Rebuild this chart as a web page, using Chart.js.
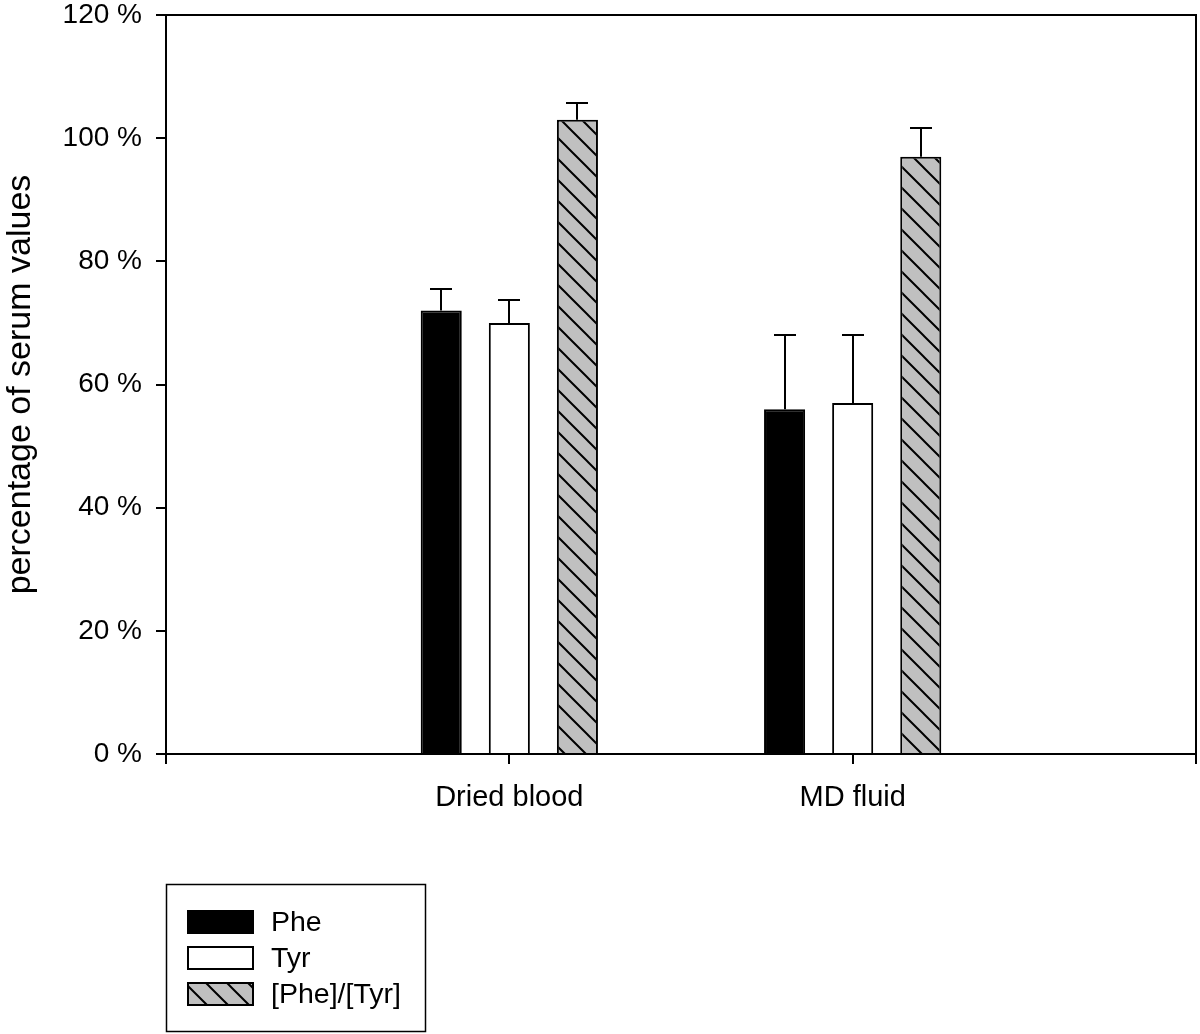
<!DOCTYPE html>
<html>
<head>
<meta charset="utf-8">
<script src="https://cdn.jsdelivr.net/npm/chart.js@4.4.0/dist/chart.umd.min.js"></script>
<style>
  html, body { margin: 0; padding: 0; background: #fff; }
  #wrap { width: 1200px; height: 1034px; position: relative; }
</style>
</head>
<body>
<div id="wrap"><canvas id="chart" width="1200" height="1034"></canvas></div>
<script>
// Data (empty outer slots leave the space on either side of the groups)
const categories = ['', 'Dried blood', 'MD fluid', ''];
const pheValues = [null, 72, 56, null];
const pheErrors = [null, 3.5, 12, null];
const tyrValues = [null, 70, 57, null];
const tyrErrors = [null, 3.7, 11, null];
const ratioValues = [null, 103, 97, null];
const ratioErrors = [null, 2.7, 4.7, null];
const yTicks = [0, 20, 40, 60, 80, 100, 120];
const seriesNames = ['Phe', 'Tyr', '[Phe]/[Tyr]'];

const FONT = "'Liberation Sans', Arial, sans-serif";

// Diagonal hatch pattern for the ratio bars
function makeHatch() {
    const size = 21;
    const c = document.createElement('canvas');
    c.width = size;
    c.height = size;
    const g = c.getContext('2d');
    g.fillStyle = '#c0c0c0';
    g.fillRect(0, 0, size, size);
    g.strokeStyle = '#000';
    g.lineWidth = 2;
    g.beginPath();
    g.moveTo(-2, -2); g.lineTo(size + 2, size + 2);
    g.moveTo(-2, size - 2); g.lineTo(2, size + 2);
    g.moveTo(size - 2, -2); g.lineTo(size + 2, 2);
    g.stroke();
    return g.createPattern(c, 'repeat');
}
const hatch = makeHatch();

// Upward error bars with caps
const errorBars = {
    id: 'errorBars',
    afterDatasetsDraw(chart) {
        const ctx = chart.ctx;
        const yScale = chart.scales.y;
        ctx.save();
        ctx.strokeStyle = '#000';
        ctx.lineWidth = 2;
        chart.data.datasets.forEach((ds, di) => {
            const meta = chart.getDatasetMeta(di);
            meta.data.forEach((bar, i) => {
                const v = ds.data[i];
                const e = ds.errors[i];
                if (v == null || e == null) return;
                const yTop = Math.round(yScale.getPixelForValue(v + e));
                const x = Math.round(bar.x);
                ctx.beginPath();
                ctx.moveTo(x, bar.y);
                ctx.lineTo(x, yTop);
                ctx.moveTo(x - 11, yTop);
                ctx.lineTo(x + 11, yTop);
                ctx.stroke();
            });
        });
        ctx.restore();
    }
};

// Frame (top and right sides) plus boxed legend
const frameAndLegend = {
    id: 'frameAndLegend',
    afterDraw(chart) {
        const ctx = chart.ctx;
        const a = chart.chartArea;
        ctx.save();
        ctx.strokeStyle = '#000';
        ctx.lineWidth = 2;
        ctx.beginPath();
        ctx.moveTo(a.left, a.top);
        ctx.lineTo(a.right, a.top);
        ctx.lineTo(a.right, a.bottom);
        ctx.stroke();

        // legend box
        ctx.lineWidth = 1.5;
        ctx.strokeRect(166.5, 884.5, 259, 147);
        const fills = ['#000', '#fff', hatch];
        const rowY = [911, 947, 983];
        ctx.font = '28.5px ' + FONT;
        ctx.textBaseline = 'middle';
        ctx.fillStyle = '#000';
        seriesNames.forEach((name, i) => {
            ctx.fillStyle = fills[i];
            ctx.fillRect(188, rowY[i], 65, 22);
            ctx.lineWidth = 2;
            ctx.strokeRect(188, rowY[i], 65, 22);
            ctx.fillStyle = '#000';
            ctx.fillText(name, 271, rowY[i] + 12);
        });
        ctx.restore();
    }
};

new Chart(document.getElementById('chart'), {
    type: 'bar',
    data: {
        labels: categories,
        datasets: [
            { label: seriesNames[0], data: pheValues, errors: pheErrors, backgroundColor: '#000', borderColor: '#000', borderWidth: 2 },
            { label: seriesNames[1], data: tyrValues, errors: tyrErrors, backgroundColor: '#fff', borderColor: '#000', borderWidth: 2 },
            { label: seriesNames[2], data: ratioValues, errors: ratioErrors, backgroundColor: hatch, borderColor: '#000', borderWidth: 2 }
        ]
    },
    options: {
        responsive: false,
        animation: false,
        layout: { padding: { top: 15, right: 4, left: 0, bottom: 0 } },
        datasets: { bar: { categoryPercentage: 0.595, barPercentage: 0.603 } },
        scales: {
            x: {
                offset: false,
                grid: { offset: false, drawOnChartArea: false, drawTicks: true, tickLength: 10, color: '#000', lineWidth: 2 },
                border: { display: true, color: '#000', width: 2 },
                ticks: { color: '#000', padding: 17, font: { family: FONT, size: 29 }, maxRotation: 0, autoSkip: false },
                afterFit(scale) {
                    scale.height = 280;
                    scale.paddingLeft = 0;
                    scale.paddingRight = 0;
                }
            },
            y: {
                min: 0,
                max: 120,
                afterBuildTicks(scale) { scale.ticks = yTicks.map(v => ({ value: v })); },
                grid: { drawOnChartArea: false, drawTicks: true, tickLength: 10, color: '#000', lineWidth: 2 },
                border: { display: true, color: '#000', width: 2 },
                ticks: { color: '#000', padding: 14, font: { family: FONT, size: 28 }, callback: v => v + ' %' },
                title: { display: true, text: 'percentage of serum values', color: '#000', font: { family: FONT, size: 34 }, padding: { top: 0, bottom: 0 } },
                afterFit(scale) {
                    scale.width = 166;
                    scale.paddingTop = 0;
                    scale.paddingBottom = 0;
                }
            }
        },
        plugins: {
            legend: { display: false },
            tooltip: { enabled: false }
        }
    },
    plugins: [errorBars, frameAndLegend]
});
</script>
</body>
</html>
